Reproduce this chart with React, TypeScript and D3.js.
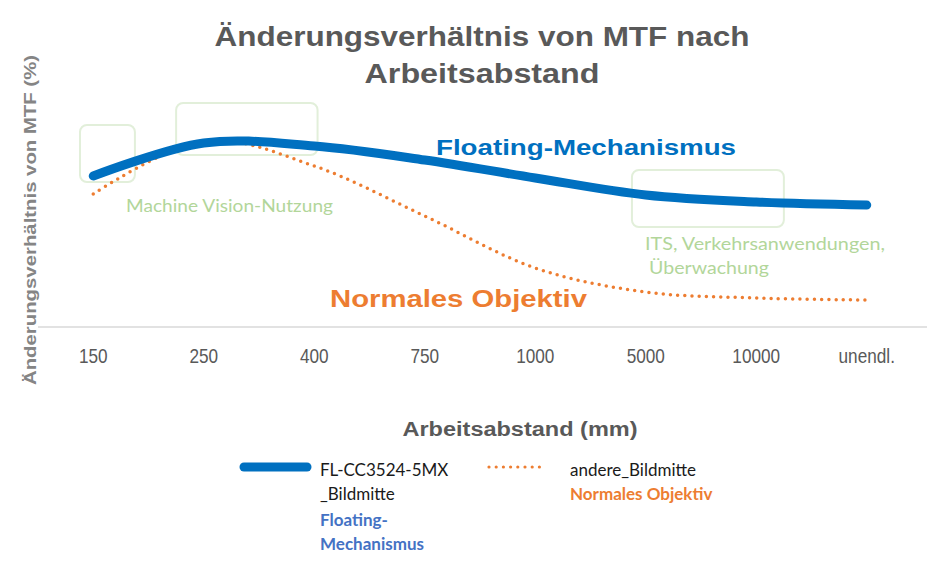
import React from "react";
import * as d3 from "d3";

const categories = ["150", "250", "400", "750", "1000", "5000", "10000", "unendl."];
const floatingValues = [75.5, 92, 90.5, 83.5, 74.5, 66, 62.5, 61];
const normalValues = [66.5, 93, 80.5, 55.5, 29.5, 17.5, 14.5, 13.5];

// annotation boxes in data units: category-index range and value range
const boxIdx0 = [-0.12, 0.75, 4.875];
const boxIdx1 = [0.377, 2.03, 6.25];
const boxTop = [101, 112, 78.5];
const boxBottom = [72.5, 86, 50];

const W = 939;
const H = 575;

export default function App() {
  const x = d3.scaleBand<string>().domain(categories).range([38, 922]).padding(0);
  const cx = (c: string) => (x(c) as number) + x.bandwidth() / 2;
  const xi = d3.scaleLinear().domain([0, categories.length - 1]).range([cx(categories[0]), cx(categories[categories.length - 1])]);
  const y = d3.scaleLinear().domain([0, 100]).range([327, 127]);

  const line = d3
    .line<number>()
    .x((_, i) => cx(categories[i]))
    .y((d) => y(d))
    .curve(d3.curveCardinal.tension(0));

  const blue = "#0070c0";
  const orange = "#ed7d31";
  const green = "#b2d69a";
  const boxStroke = "#e2efda";
  const calibri = "Lato, 'Open Sans', sans-serif";
  const arial = "'Liberation Sans', Arial, sans-serif";

  return (
    <svg
      width={W}
      height={H}
      viewBox={`0 0 ${W} ${H}`}
      style={{ position: "absolute", left: 0, top: 0, background: "#fff" }}
    >
      <rect x={0} y={0} width={W} height={H} fill="#fff" />
      {/* title */}
      <text x={482} y={46} textAnchor="middle" fontFamily={arial} fontWeight={700} fontSize={27} fill="#595959" textLength={535} lengthAdjust="spacingAndGlyphs">
        Änderungsverhältnis von MTF nach
      </text>
      <text x={482} y={83} textAnchor="middle" fontFamily={arial} fontWeight={700} fontSize={27} fill="#595959" textLength={235} lengthAdjust="spacingAndGlyphs">
        Arbeitsabstand
      </text>

      {/* y axis title */}
      <text transform="translate(36,220) rotate(-90)" textAnchor="middle" fontFamily={arial} fontWeight={700} fontSize={17} fill="#858585" textLength={330} lengthAdjust="spacingAndGlyphs">
        Änderungsverhältnis von MTF  (%)
      </text>

      {/* axis line */}
      <line x1={x.range()[0]} x2={x.range()[1] + 5} y1={y(0)} y2={y(0)} stroke="#d9d9d9" strokeWidth={1.3} />

      {/* tick labels */}
      {categories.map((c) => (
        <text key={c} transform={`translate(${cx(c)},363) scale(0.86,1)`} textAnchor="middle" fontFamily={arial} fontSize={20} fill="#595959">
          {c}
        </text>
      ))}

      {/* x axis title */}
      <text x={520} y={436} textAnchor="middle" fontFamily={arial} fontWeight={700} fontSize={20} fill="#595959" textLength={235} lengthAdjust="spacingAndGlyphs">
        Arbeitsabstand (mm)
      </text>

      {/* annotation boxes */}
      {boxIdx0.map((b, i) => (
        <rect
          key={i}
          x={xi(b)}
          y={y(boxTop[i])}
          width={xi(boxIdx1[i]) - xi(b)}
          height={y(boxBottom[i]) - y(boxTop[i])}
          rx={7}
          fill="none"
          stroke={boxStroke}
          strokeWidth={2}
        />
      ))}

      {/* series */}
      <path d={line(normalValues) || ""} fill="none" stroke={orange} strokeWidth={3.5} strokeDasharray="0 7.2" strokeLinecap="round" />
      <path d={line(floatingValues) || ""} fill="none" stroke={blue} strokeWidth={9} strokeLinecap="round" strokeLinejoin="round" />

      {/* annotations */}
      <text x={436} y={155} fontFamily={arial} fontWeight={900} fontSize={22} fill={blue} textLength={300} lengthAdjust="spacingAndGlyphs">
        Floating-Mechanismus
      </text>
      <text x={330} y={307} fontFamily={arial} fontWeight={900} fontSize={23} fill={orange} textLength={257} lengthAdjust="spacingAndGlyphs">
        Normales Objektiv
      </text>
      <text x={126} y={212} fontFamily={calibri} fontSize={16.5} fill={green} textLength={207} lengthAdjust="spacingAndGlyphs">
        Machine Vision-Nutzung
      </text>
      <text x={645} y={250} fontFamily={calibri} fontSize={17} fill={green} textLength={240} lengthAdjust="spacingAndGlyphs">
        ITS, Verkehrsanwendungen,
      </text>
      <text x={649} y={274} fontFamily={calibri} fontSize={17} fill={green} textLength={120} lengthAdjust="spacingAndGlyphs">
        Überwachung
      </text>

      {/* legend */}
      <line x1={244} x2={307} y1={467} y2={467} stroke={blue} strokeWidth={9} strokeLinecap="round" />
      <text fontFamily={calibri} fontSize={17} fill="#1a1a1a">
        <tspan x={320} y={476}>FL-CC3524-5MX</tspan>
        <tspan x={320} y={500}>_Bildmitte</tspan>
      </text>
      <text fontFamily={calibri} fontSize={17} fontWeight={700} fill="#4472c4">
        <tspan x={320} y={526}>Floating-</tspan>
        <tspan x={320} y={550}>Mechanismus</tspan>
      </text>
      <line x1={489} x2={545} y1={467} y2={467} stroke={orange} strokeWidth={3.2} strokeDasharray="0 7.2" strokeLinecap="round" />
      <text x={570} y={476} fontFamily={calibri} fontSize={17} fill="#1a1a1a">
        andere_Bildmitte
      </text>
      <text x={570} y={500} fontFamily={calibri} fontSize={17} fontWeight={700} fill={orange}>
        Normales Objektiv
      </text>
    </svg>
  );
}
